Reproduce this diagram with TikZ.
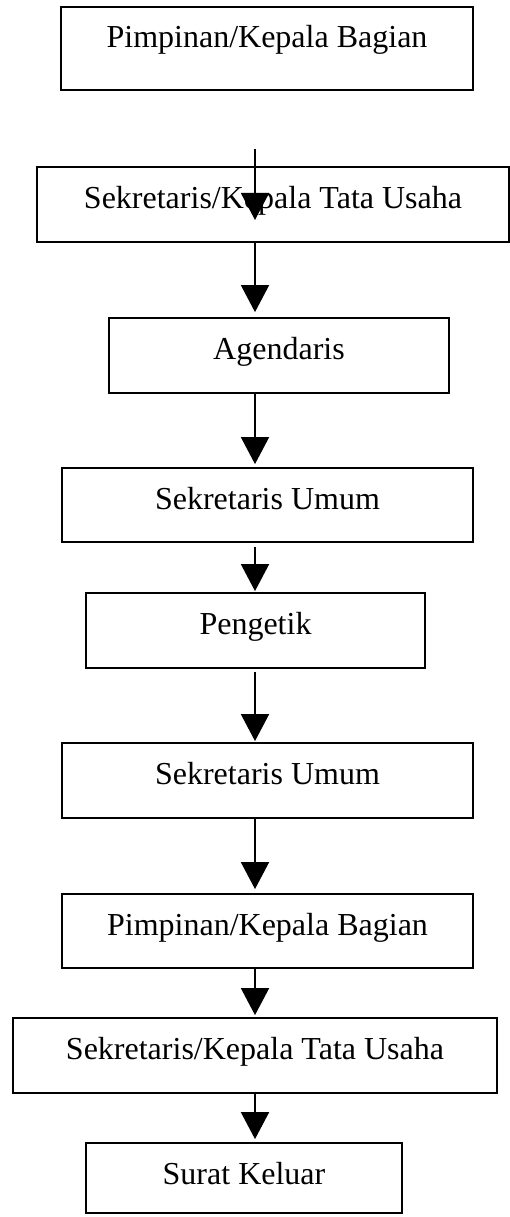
\documentclass[tikz,border=0pt]{standalone}
\usepackage{fontspec}
\setmainfont{Liberation Serif}
\usetikzlibrary{arrows.meta}
\tikzset{
  box/.style={draw, line width=1.8pt, inner sep=0pt, text height=41pt, text depth={#1-41pt}, minimum height={#1}, font=\fontsize{32}{38}\selectfont},
  box/.default=75pt,
  arr/.style={line width=1.8pt, -{Triangle[length=27pt,width=28pt]}}
}
\begin{document}
\begin{tikzpicture}[x=1pt,y=-1pt]
\useasboundingbox (0,0) rectangle (510,1217);
\coordinate (ax) at (255,0);
\node[box=83pt, minimum width=412pt] (b1) at (267,48.5) {Pimpinan/Kepala Bagian};
\node[box, minimum width=472pt] (b2) at (273,204.5) {Sekretaris/Kepala Tata Usaha};
\node[box, minimum width=340pt] (b3) at (279,355.5) {Agendaris};
\node[box=74pt, minimum width=411pt] (b4) at (267.5,505) {Sekretaris Umum};
\node[box, minimum width=339pt] (b5) at (255.5,630.5) {Pengetik};
\node[box, minimum width=411pt] (b6) at (267.5,780.5) {Sekretaris Umum};
\node[box=74pt, minimum width=411pt] (b7) at (267.5,931) {Pimpinan/Kepala Bagian};
\node[box, minimum width=484pt] (b8) at (255,1055.5) {Sekretaris/Kepala Tata Usaha};
\node[box=70pt, minimum width=316pt] (b9) at (244,1178) {Surat Keluar};
\coordinate (s1) at (255,149);
\coordinate (e1) at (255,220);
\draw[arr] (s1) -- (e1);
\draw[arr, shorten >=5pt] (b2.south -| ax) -- (b3.north -| ax);
\draw[arr, shorten >=3pt] (b3.south -| ax) -- (b4.north -| ax);
\draw[arr, shorten <=4pt, shorten >=1pt] (b4.south -| ax) -- (b5.north -| ax);
\draw[arr, shorten <=3pt, shorten >=1pt] (b5.south -| ax) -- (b6.north -| ax);
\draw[arr, shorten >=4pt] (b6.south -| ax) -- (b7.north -| ax);
\draw[arr, shorten >=2pt] (b7.south -| ax) -- (b8.north -| ax);
\draw[arr, shorten >=3pt] (b8.south -| ax) -- (b9.north -| ax);
\end{tikzpicture}
\end{document}
